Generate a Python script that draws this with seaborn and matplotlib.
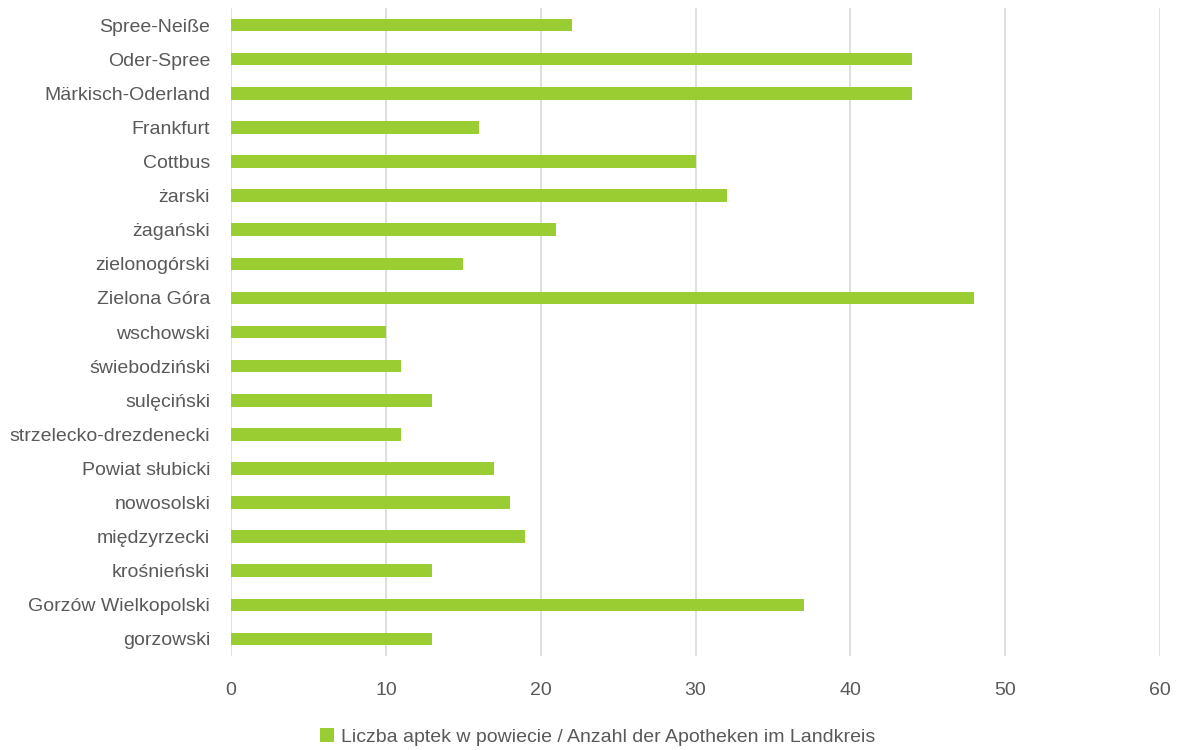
import matplotlib.pyplot as plt
import pandas as pd
import seaborn as sns
from matplotlib.patches import Patch

# Data
districts = [
    "Spree-Neiße", "Oder-Spree", "Märkisch-Oderland", "Frankfurt", "Cottbus",
    "żarski", "żagański", "zielonogórski", "Zielona Góra", "wschowski",
    "świebodziński", "sulęciński", "strzelecko-drezdenecki", "Powiat słubicki",
    "nowosolski", "międzyrzecki", "krośnieński", "Gorzów Wielkopolski", "gorzowski",
]
pharmacies = [22, 44, 44, 16, 30, 32, 21, 15, 48, 10, 11, 13, 11, 17, 18, 19, 13, 37, 13]
series_label = "Liczba aptek w powiecie / Anzahl der Apotheken im Landkreis"
x_ticks = [0, 10, 20, 30, 40, 50, 60]

df = pd.DataFrame({"district": districts, "count": pharmacies})

sns.set_style("white")
plt.rcParams["font.family"] = ["Liberation Sans", "DejaVu Sans"]

bar_color = "#9ACD32"
text_color = "#595959"

fig = plt.figure(figsize=(11.77, 7.5), dpi=100)
ax = fig.add_axes([0.1963, 0.1253, 0.7893, 0.864])

sns.barplot(data=df, x="count", y="district", color=bar_color, width=0.37,
            saturation=1, linewidth=0, orient="h", ax=ax)

ax.set_xlim(0, 60)
ax.set_xticks(x_ticks)
ax.grid(axis="x", color="#d9d9d9", linewidth=1.2)
ax.set_axisbelow(True)
for s in ax.spines.values():
    s.set_visible(False)
ax.tick_params(axis="both", length=0, labelsize=14, labelcolor=text_color)
ax.tick_params(axis="x", pad=19)
ax.tick_params(axis="y", pad=15)
ax.set_xlabel("")
ax.set_ylabel("")

handle = Patch(facecolor=bar_color, edgecolor="none")
fig.legend([handle], [series_label], loc="center", bbox_to_anchor=(0.508, 0.017),
           frameon=False, fontsize=14, labelcolor=text_color,
           handlelength=0.7, handleheight=0.7, handletextpad=0.4)

fig.savefig("out.png", dpi=100)
